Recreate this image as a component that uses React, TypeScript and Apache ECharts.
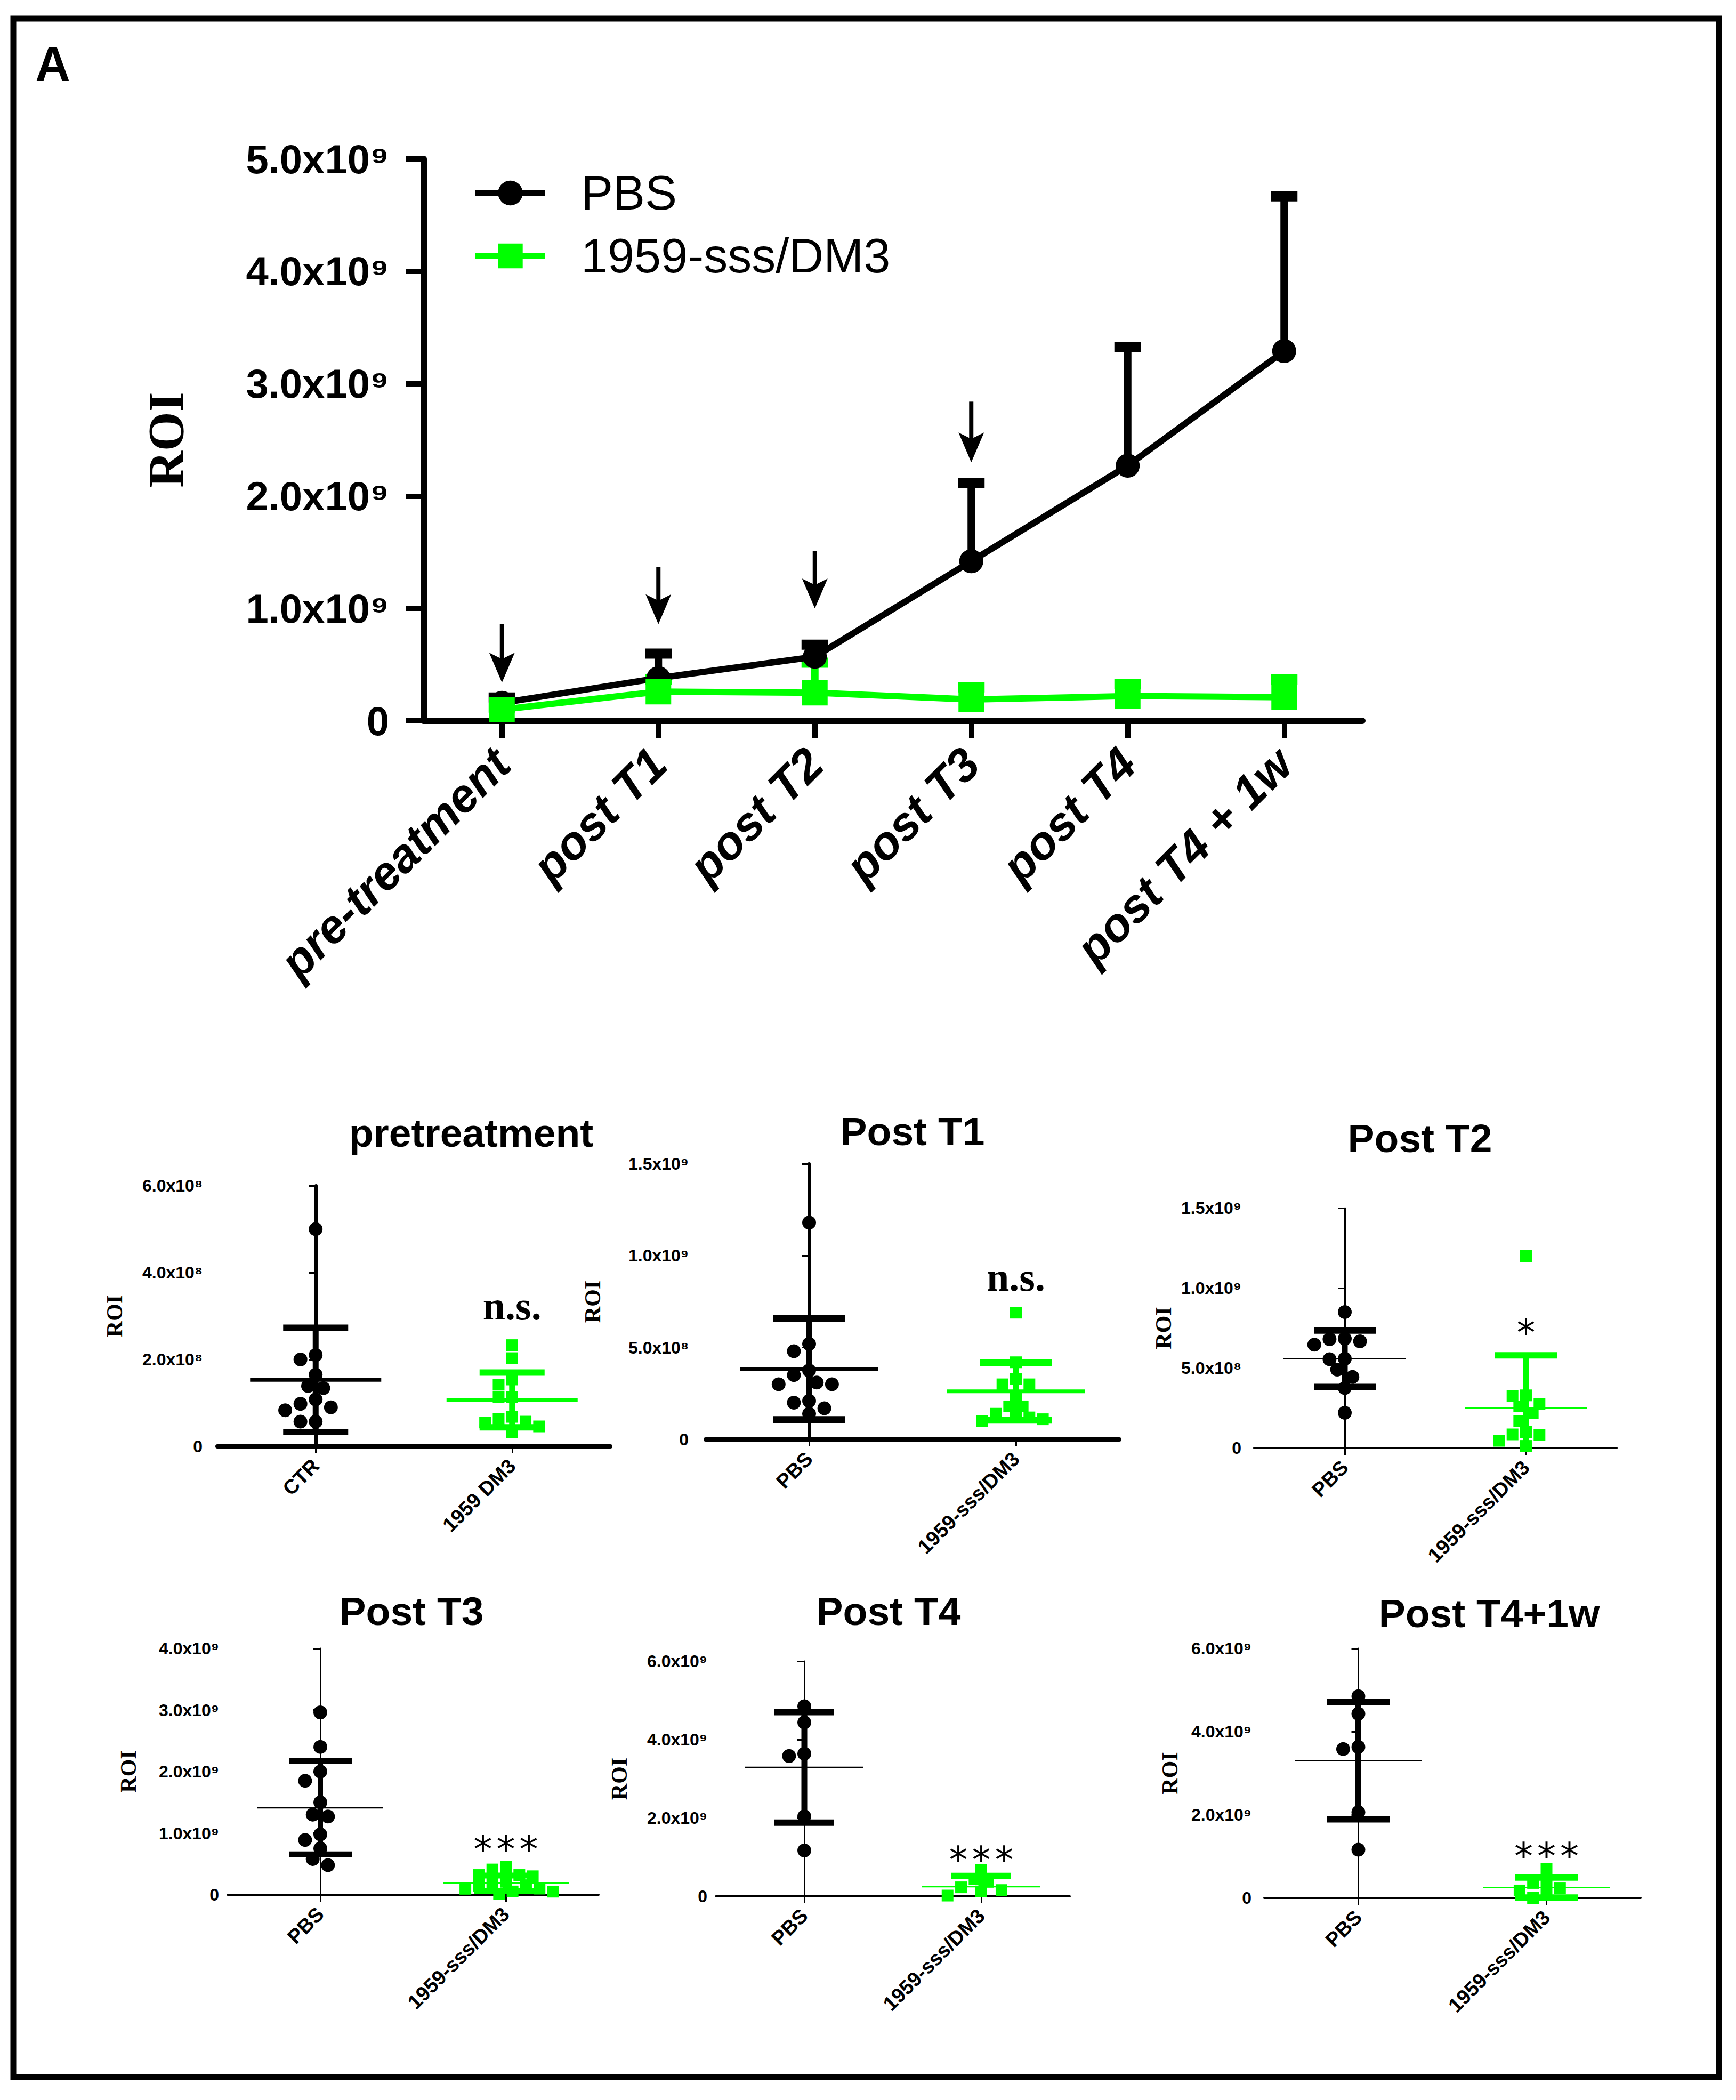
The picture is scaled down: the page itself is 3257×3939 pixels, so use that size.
import React, { useEffect, useRef } from 'react';
import * as echarts from 'echarts';

const GREEN = '#00ff00';
const BLACK = '#000000';
const SANS = '"Liberation Sans", Arial, Helvetica, sans-serif';
const SERIF = '"Liberation Serif", "Times New Roman", serif';

// ---------------- main time-course chart ----------------
const timeCategories = ['pre-treatment', 'post T1', 'post T2', 'post T3', 'post T4', 'post T4 + 1w'];
const pbsMean = [0.16e9, 0.38e9, 0.57e9, 1.42e9, 2.27e9, 3.29e9];
const pbsSd = [0.09e9, 0.26e9, 0.15e9, 0.74e9, 1.1e9, 1.42e9];
const dm3Mean = [0.1e9, 0.26e9, 0.25e9, 0.19e9, 0.22e9, 0.21e9];
const dm3Sd = [0.06e9, 0.15e9, 0.31e9, 0.15e9, 0.15e9, 0.2e9];
const mainYTicks = ['0', '1.0x10⁹', '2.0x10⁹', '3.0x10⁹', '4.0x10⁹', '5.0x10⁹'];
// treatment arrows (category index, arrow start value, arrow tip value)
const arrowCategories = [0, 1, 2, 3];
const arrowFrom = [0.86e9, 1.37e9, 1.51e9, 2.84e9];
const arrowTo = [0.34e9, 0.86e9, 1.0e9, 2.3e9];

// ---------------- dot-plot panels ----------------
const p1Cats = ['CTR', '1959 DM3'];
const p1Ctr = [5.0e8, 2.1e8, 2.0e8, 1.65e8, 1.39e8, 1.34e8, 1.08e8, 0.98e8, 0.9e8, 0.83e8, 0.57e8, 0.57e8];
const p1Dm3 = [2.33e8, 2.03e8, 1.54e8, 1.42e8, 1.13e8, 1.13e8, 0.68e8, 0.63e8, 0.57e8, 0.55e8, 0.46e8, 0.32e8];
const p1Mean = [1.53e8, 1.07e8];
const p1Sd = [1.2e8, 0.63e8];
const p1Ticks = ['0', '2.0x10⁸', '4.0x10⁸', '6.0x10⁸'];

const groupCats = ['PBS', '1959-sss/DM3'];

const t1Pbs = [1.18e9, 0.52e9, 0.48e9, 0.375e9, 0.35e9, 0.31e9, 0.3e9, 0.3e9, 0.21e9, 0.2e9, 0.17e9, 0.14e9];
const t1Dm3 = [0.69e9, 0.42e9, 0.33e9, 0.3e9, 0.3e9, 0.23e9, 0.18e9, 0.18e9, 0.14e9, 0.125e9, 0.12e9, 0.11e9, 0.1e9];
const t1Mean = [0.383e9, 0.262e9];
const t1Sd = [0.275e9, 0.157e9];
const t1Ticks = ['0', '5.0x10⁸', '1.0x10⁹', '1.5x10⁹'];

const t2Pbs = [0.85e9, 0.683e9, 0.68e9, 0.667e9, 0.646e9, 0.558e9, 0.555e9, 0.49e9, 0.444e9, 0.375e9, 0.22e9];
const t2Dm3 = [1.2e9, 0.329e9, 0.324e9, 0.276e9, 0.26e9, 0.22e9, 0.169e9, 0.1e9, 0.085e9, 0.08e9, 0.045e9, 0.013e9];
const t2Mean = [0.558e9, 0.252e9];
const t2Sd = [0.176e9, 0.327e9];
const t2Ticks = ['0', '5.0x10⁸', '1.0x10⁹', '1.5x10⁹'];

const t3Pbs = [2.96e9, 2.4e9, 2.0e9, 1.85e9, 1.5e9, 1.3e9, 1.27e9, 0.98e9, 0.89e9, 0.75e9, 0.58e9, 0.48e9];
const t3Dm3 = [0.45e9, 0.41e9, 0.32e9, 0.32e9, 0.3e9, 0.21e9, 0.186e9, 0.155e9, 0.14e9, 0.1e9, 0.097e9, 0.053e9, 0.05e9, 0.01e9];
const t3Mean = [1.414e9, 0.186e9];
const t3Sd = [0.758e9, 0.125e9];
const t3Ticks = ['0', '1.0x10⁹', '2.0x10⁹', '3.0x10⁹', '4.0x10⁹'];

const t4Pbs = [4.85e9, 4.44e9, 3.64e9, 3.58e9, 2.04e9, 1.17e9];
const t4Dm3 = [0.68e9, 0.44e9, 0.37e9, 0.23e9, 0.16e9, 0.125e9, 0.02e9];
const t4Mean = [3.29e9, 0.25e9];
const t4Sd = [1.41e9, 0.27e9];
const t4Ticks = ['0', '2.0x10⁹', '4.0x10⁹', '6.0x10⁹'];

const t5Pbs = [4.85e9, 4.43e9, 3.63e9, 3.58e9, 2.06e9, 1.16e9];
const t5Dm3 = [0.7e9, 0.38e9, 0.36e9, 0.23e9, 0.18e9, 0.1e9, 0.0];
const t5Mean = [3.3e9, 0.25e9];
const t5Sd = [1.41e9, 0.24e9];
const t5Ticks = ['0', '2.0x10⁹', '4.0x10⁹', '6.0x10⁹'];

const panelTitles = ['pretreatment', 'Post T1', 'Post T2', 'Post T3', 'Post T4', 'Post T4+1w'];
const sigTexts = ['n.s.', 'n.s.', '*', '***', '***', '***'];
const sigValues = [3.24e8, 0.885e9, 0.72e9, 0.74e9, 0.93e9, 1.0e9];

// ---------------- layout / style (not data) ----------------
type PanelLayout = {
  left: number; top: number; width: number; height: number;
  max: number; interval: number;
  titleX: number; titleY: number;
  xW: number; yW: number; meanW: number; meanHalf: number; capHalf: number; capW: number; barW: number;
  nameGap: number; labelMargin: number;
};
const layouts: PanelLayout[] = [
  { left: 408, top: 2224, width: 737, height: 489, max: 6e8, interval: 2e8, titleX: 884, titleY: 2125, xW: 8, yW: 6, meanW: 7, meanHalf: 123, capHalf: 61, capW: 12, barW: 11, nameGap: 172, labelMargin: 28 },
  { left: 1324, top: 2183, width: 776, height: 517, max: 1.5e9, interval: 5e8, titleX: 1712, titleY: 2122, xW: 8, yW: 6, meanW: 7, meanHalf: 130, capHalf: 67, capW: 13, barW: 11, nameGap: 191, labelMargin: 32 },
  { left: 2353, top: 2266, width: 680, height: 450, max: 1.5e9, interval: 5e8, titleX: 2664, titleY: 2135, xW: 4, yW: 3, meanW: 3, meanHalf: 115, capHalf: 58, capW: 12, barW: 11, nameGap: 149, labelMargin: 24 },
  { left: 427, top: 3092, width: 696, height: 462, max: 4e9, interval: 1e9, titleX: 772, titleY: 3022, xW: 4, yW: 3, meanW: 3, meanHalf: 118, capHalf: 59, capW: 11, barW: 10, nameGap: 165, labelMargin: 16 },
  { left: 1343, top: 3116, width: 664, height: 441, max: 6e9, interval: 2e9, titleX: 1667, titleY: 3022, xW: 4, yW: 3, meanW: 3, meanHalf: 111, capHalf: 56, capW: 12, barW: 11, nameGap: 160, labelMargin: 16 },
  { left: 2372, top: 3092, width: 706, height: 468, max: 6e9, interval: 2e9, titleX: 2794, titleY: 3026, xW: 4, yW: 3, meanW: 3, meanHalf: 119, capHalf: 59, capW: 12, barW: 11, nameGap: 156, labelMargin: 24 },
];

const panelData = [
  { cats: p1Cats, black: p1Ctr, green: p1Dm3, mean: p1Mean, sd: p1Sd, ticks: p1Ticks },
  { cats: groupCats, black: t1Pbs, green: t1Dm3, mean: t1Mean, sd: t1Sd, ticks: t1Ticks },
  { cats: groupCats, black: t2Pbs, green: t2Dm3, mean: t2Mean, sd: t2Sd, ticks: t2Ticks },
  { cats: groupCats, black: t3Pbs, green: t3Dm3, mean: t3Mean, sd: t3Sd, ticks: t3Ticks },
  { cats: groupCats, black: t4Pbs, green: t4Dm3, mean: t4Mean, sd: t4Sd, ticks: t4Ticks },
  { cats: groupCats, black: t5Pbs, green: t5Dm3, mean: t5Mean, sd: t5Sd, ticks: t5Ticks },
];

// beeswarm-style horizontal spreading of points (layout only), result in pixels
function swarmOffsets(values: number[], pxPerUnit: number, size: number): number[] {
  const order = values.map((_, i) => i).sort((a, b) => values[b] - values[a]);
  const placed: { x: number; y: number }[] = [];
  const out = new Array(values.length).fill(0);
  for (const i of order) {
    const y = values[i] * pxPerUnit;
    for (let k = 0; k < 60; k++) {
      const m = Math.ceil(k / 2) * (k % 2 ? -1 : 1);
      const x = m * size * 0.55;
      if (placed.every((p) => Math.hypot(p.x - x, p.y - y) >= size * 0.9)) {
        out[i] = x;
        placed.push({ x, y });
        break;
      }
    }
  }
  return out;
}

function tickFormatter(ticks: string[], interval: number) {
  return (v: number) => ticks[Math.round(v / interval)] ?? '';
}

function mainErrRender(color: string) {
  return (params: any, api: any) => {
    const i = api.value(0);
    const m = api.value(1);
    const s = api.value(2);
    const p0 = api.coord([i, m]);
    const p1 = api.coord([i, m + s]);
    return {
      type: 'group',
      children: [
        { type: 'line', shape: { x1: p0[0], y1: p0[1], x2: p1[0], y2: p1[1] }, style: { stroke: color, lineWidth: 14 } },
        { type: 'line', shape: { x1: p1[0] - 25, y1: p1[1] + 9, x2: p1[0] + 25, y2: p1[1] + 9 }, style: { stroke: color, lineWidth: 19 } },
      ],
    };
  };
}

function arrowRender(params: any, api: any) {
  const i = api.value(0);
  const from = api.coord([i, api.value(1)]);
  const to = api.coord([i, api.value(2)]);
  const x = to[0];
  const ty = to[1];
  return {
    type: 'group',
    children: [
      { type: 'line', shape: { x1: x, y1: from[1], x2: x, y2: ty - 30 }, style: { stroke: BLACK, lineWidth: 8 } },
      {
        type: 'polygon',
        shape: { points: [[x, ty], [x - 24, ty - 56], [x, ty - 44], [x + 24, ty - 56]] },
        style: { fill: BLACK },
      },
    ],
  };
}

function meanSdRender(st: PanelLayout) {
  return (params: any, api: any) => {
    const i = api.value(0);
    const m = api.value(1);
    const s = api.value(2);
    const color = i === 0 ? BLACK : GREEN;
    const pm = api.coord([i, m]);
    const top = api.coord([i, m + s]);
    const bot = api.coord([i, Math.max(m - s, 0)]);
    const children: any[] = [
      { type: 'line', shape: { x1: pm[0] - st.meanHalf, y1: pm[1], x2: pm[0] + st.meanHalf, y2: pm[1] }, style: { stroke: color, lineWidth: st.meanW } },
      { type: 'line', shape: { x1: top[0], y1: top[1], x2: bot[0], y2: bot[1] }, style: { stroke: color, lineWidth: st.barW } },
      { type: 'line', shape: { x1: top[0] - st.capHalf, y1: top[1], x2: top[0] + st.capHalf, y2: top[1] }, style: { stroke: color, lineWidth: st.capW } },
    ];
    if (m - s >= 0) {
      children.push({ type: 'line', shape: { x1: bot[0] - st.capHalf, y1: bot[1], x2: bot[0] + st.capHalf, y2: bot[1] }, style: { stroke: color, lineWidth: st.capW } });
    }
    return { type: 'group', children };
  };
}

function sigRender(text: string) {
  return (params: any, api: any) => {
    const p = api.coord([api.value(0), api.value(1)]);
    if (text.startsWith('n')) {
      return {
        type: 'text', x: p[0], y: p[1],
        style: { text, fill: BLACK, fontSize: 76, fontWeight: 'bold', fontFamily: SERIF, align: 'center', verticalAlign: 'middle' },
      };
    }
    const n = text.length;
    const rich = '{s|*}'.repeat(n);
    return {
      type: 'text', x: p[0], y: p[1],
      style: {
        text: rich, fill: BLACK, align: 'center', verticalAlign: 'middle',
        rich: { s: { fontSize: 70, fontFamily: '"DejaVu Sans", sans-serif', fill: BLACK, padding: [0, 4, 0, 4] } },
      },
    };
  };
}

function buildOption() {
  const grid: any[] = [{ left: 795, top: 298, width: 1761, height: 1054, containLabel: false, outerBoundsMode: 'none' }];
  const xAxis: any[] = [
    {
      type: 'category', gridIndex: 0, data: timeCategories, boundaryGap: true,
      axisLine: { show: true, lineStyle: { color: BLACK, width: 12 } },
      axisTick: { show: true, alignWithLabel: true, length: 33, lineStyle: { color: BLACK, width: 10 } },
      axisLabel: { interval: 0, rotate: 45, margin: 66, fontSize: 88, fontWeight: 'bold', fontStyle: 'italic', fontFamily: SANS, color: BLACK },
      splitLine: { show: false },
    },
  ];
  const yAxis: any[] = [
    {
      type: 'value', gridIndex: 0, min: 0, max: 5e9, interval: 1e9,
      axisLine: { show: true, lineStyle: { color: BLACK, width: 12 } },
      axisTick: { show: true, length: 34, lineStyle: { color: BLACK, width: 10 } },
      axisLabel: { formatter: tickFormatter(mainYTicks, 1e9), fontSize: 76, fontWeight: 'bold', fontFamily: SANS, color: BLACK, margin: 65 },
      splitLine: { show: false },
      name: 'ROI', nameLocation: 'middle', nameGap: 436,
      nameTextStyle: { fontFamily: SERIF, fontWeight: 'bold', fontSize: 95, color: BLACK },
    },
  ];
  const series: any[] = [
    {
      type: 'custom', name: 'PBS SD', xAxisIndex: 0, yAxisIndex: 0, silent: true,
      data: timeCategories.map((_, i) => [i, pbsMean[i], pbsSd[i]]),
      renderItem: mainErrRender(BLACK),
    },
    {
      type: 'line', name: 'PBS', xAxisIndex: 0, yAxisIndex: 0, data: pbsMean,
      symbol: 'circle', symbolSize: 45,
      itemStyle: { color: BLACK, opacity: 1 }, lineStyle: { color: BLACK, width: 12 },
    },
    {
      type: 'custom', name: '1959-sss/DM3 SD', xAxisIndex: 0, yAxisIndex: 0, silent: true,
      data: timeCategories.map((_, i) => [i, dm3Mean[i], dm3Sd[i]]),
      renderItem: mainErrRender(GREEN),
    },
    {
      type: 'line', name: '1959-sss/DM3', xAxisIndex: 0, yAxisIndex: 0, data: dm3Mean,
      symbol: 'rect', symbolSize: 48,
      itemStyle: { color: GREEN, opacity: 1 }, lineStyle: { color: GREEN, width: 12 },
    },
    {
      type: 'custom', name: 'treatment', xAxisIndex: 0, yAxisIndex: 0, silent: true,
      data: arrowCategories.map((c, i) => [c, arrowFrom[i], arrowTo[i]]),
      renderItem: arrowRender,
    },
  ];

  const graphic: any[] = [
    { type: 'rect', shape: { x: 25, y: 35, width: 3200, height: 3861 }, style: { fill: 'none', stroke: BLACK, lineWidth: 11 } },
    { type: 'text', x: 99, y: 120, style: { text: 'A', fill: BLACK, fontSize: 90, fontWeight: 'bold', fontFamily: SANS, align: 'center', verticalAlign: 'middle' } },
  ];

  layouts.forEach((L, k) => {
    const D = panelData[k];
    const g = k + 1;
    const catIdx = 1 + 2 * k;
    const valIdx = 2 + 2 * k;
    const yIdx = k + 1;
    grid.push({ left: L.left, top: L.top, width: L.width, height: L.height, containLabel: false, outerBoundsMode: 'none' });
    xAxis.push({
      type: 'category', gridIndex: g, data: D.cats, boundaryGap: true,
      axisLine: { show: true, lineStyle: { color: BLACK, width: L.xW } },
      axisTick: { show: true, alignWithLabel: true, length: 13, lineStyle: { color: BLACK, width: 3 } },
      axisLabel: { interval: 0, rotate: 45, margin: 30, fontSize: 38, fontWeight: 'bold', fontFamily: SANS, color: BLACK },
      splitLine: { show: false },
    });
    xAxis.push({ type: 'value', gridIndex: g, min: -0.5, max: 1.5, show: false, splitLine: { show: false } });
    yAxis.push({
      type: 'value', gridIndex: g, min: 0, max: L.max, interval: L.interval,
      axisLine: { show: true, lineStyle: { color: BLACK, width: L.yW } },
      axisTick: { show: true, length: 13, lineStyle: { color: BLACK, width: 3 } },
      axisLabel: { formatter: tickFormatter(D.ticks, L.interval), fontSize: 32, fontWeight: 'bold', fontFamily: SANS, color: BLACK, margin: L.labelMargin },
      splitLine: { show: false },
      name: 'ROI', nameLocation: 'middle', nameGap: L.nameGap,
      nameTextStyle: { fontFamily: SERIF, fontWeight: 'bold', fontSize: 42, color: BLACK },
    });
    const pxPerUnit = L.height / L.max;
    const unitPerPx = 2 / L.width;
    const offB = swarmOffsets(D.black, pxPerUnit, 26);
    const offG = swarmOffsets(D.green, pxPerUnit, 23);
    series.push({
      type: 'scatter', name: `${panelTitles[k]} ${D.cats[0]}`, xAxisIndex: valIdx, yAxisIndex: yIdx,
      symbol: 'circle', symbolSize: 26, itemStyle: { color: BLACK, opacity: 1 }, silent: true,
      data: D.black.map((v, i) => [0 + offB[i] * unitPerPx, v]),
    });
    series.push({
      type: 'scatter', name: `${panelTitles[k]} ${D.cats[1]}`, xAxisIndex: valIdx, yAxisIndex: yIdx,
      symbol: 'rect', symbolSize: 22, itemStyle: { color: GREEN, opacity: 1 }, silent: true,
      data: D.green.map((v, i) => [1 + offG[i] * unitPerPx, v]),
    });
    series.push({
      type: 'custom', name: `${panelTitles[k]} mean SD`, xAxisIndex: catIdx, yAxisIndex: yIdx, silent: true,
      data: [0, 1].map((i) => [i, D.mean[i], D.sd[i]]),
      renderItem: meanSdRender(L),
    });
    series.push({
      type: 'custom', name: `${panelTitles[k]} significance`, xAxisIndex: catIdx, yAxisIndex: yIdx, silent: true,
      data: [[1, sigValues[k]]],
      renderItem: sigRender(sigTexts[k]),
    });
    graphic.push({
      type: 'text', x: L.titleX, y: L.titleY,
      style: { text: panelTitles[k], fill: BLACK, fontSize: 75, fontWeight: 'bold', fontFamily: SANS, align: 'center', verticalAlign: 'middle' },
    });
  });

  return {
    animation: false,
    backgroundColor: '#ffffff',
    grid,
    xAxis,
    yAxis,
    series,
    graphic,
    legend: {
      data: ['PBS', '1959-sss/DM3'],
      orient: 'vertical', left: 881, top: 312,
      itemWidth: 131, itemHeight: 58, itemGap: 28,
      selectedMode: false,
      lineStyle: { width: 12 },
      itemStyle: { opacity: 1 },
      textStyle: { fontSize: 90, fontFamily: SANS, color: BLACK, padding: [0, 0, 0, 62] },
    },
  };
}

export default function App() {
  const ref = useRef<HTMLDivElement>(null);
  useEffect(() => {
    document.body.style.margin = '0';
    const chart = echarts.init(ref.current!, null, { renderer: 'svg' });
    chart.setOption(buildOption() as any);
    return () => chart.dispose();
  }, []);
  return <div ref={ref} style={{ width: 3257, height: 3939, background: '#ffffff' }} />;
}
